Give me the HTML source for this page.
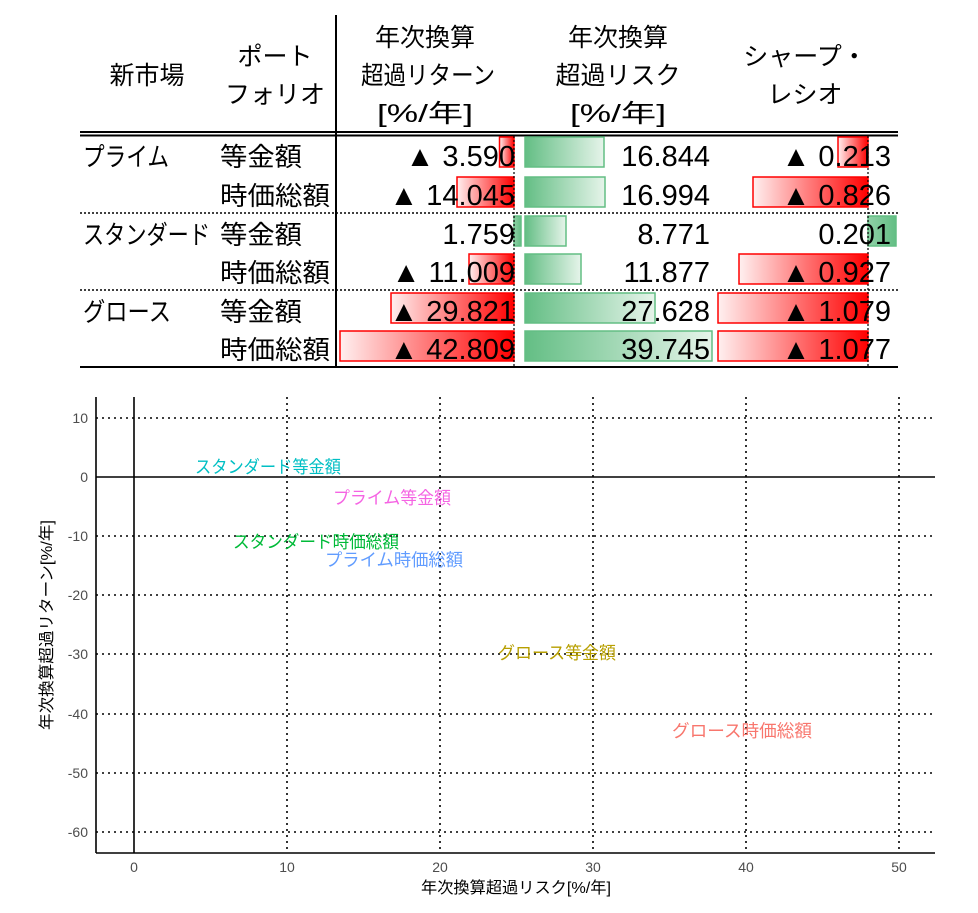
<!DOCTYPE html>
<html><head><meta charset="utf-8"><style>
body{margin:0;background:#fff;}
svg{display:block;}
.t{font-family:"Liberation Sans","Noto Sans CJK JP",sans-serif;}
</style></head><body>
<svg width="978" height="913" xmlns="http://www.w3.org/2000/svg" class="t">
<defs>
<linearGradient id="rg" x1="0" x2="1" y1="0" y2="0"><stop offset="0" stop-color="#fff0f0"/><stop offset="1" stop-color="#ff0000"/></linearGradient>
<linearGradient id="gg" x1="0" x2="1" y1="0" y2="0"><stop offset="0" stop-color="#63be84"/><stop offset="1" stop-color="#e6f4ea"/></linearGradient>
<linearGradient id="gg2" x1="0" x2="1" y1="0" y2="0"><stop offset="0" stop-color="#8fd0a6"/><stop offset="1" stop-color="#63be84"/></linearGradient>
</defs>
<g font-size="25" fill="#000" text-anchor="middle">
<text x="147" y="84">新市場</text>
<text x="275" y="65">ポート</text><text x="275" y="103">フォリオ</text>
<text x="425" y="46">年次換算</text><text x="428" y="84" textLength="134" lengthAdjust="spacingAndGlyphs">超過リターン</text><text x="425" y="122" textLength="96" lengthAdjust="spacingAndGlyphs">[%/年]</text>
<text x="618" y="46">年次換算</text><text x="618" y="84">超過リスク</text><text x="618" y="122" textLength="96" lengthAdjust="spacingAndGlyphs">[%/年]</text>
<text x="805" y="65">シャープ・</text><text x="805" y="103">レシオ</text>
</g>
<line x1="336" y1="15" x2="336" y2="367" stroke="#000" stroke-width="2"/>
<line x1="80" y1="132" x2="898" y2="132" stroke="#000" stroke-width="2"/>
<line x1="80" y1="135.5" x2="898" y2="135.5" stroke="#000" stroke-width="2"/>
<line x1="80" y1="213" x2="898" y2="213" stroke="#000" stroke-width="1.5" stroke-dasharray="2,2"/>
<line x1="80" y1="290" x2="898" y2="290" stroke="#000" stroke-width="1.5" stroke-dasharray="2,2"/>
<line x1="80" y1="367" x2="898" y2="367" stroke="#000" stroke-width="2"/>
<g stroke="#ff0000" stroke-width="1.5" fill="url(#rg)">
<rect x="499.5" y="137" width="14.5" height="30"/>
<rect x="457" y="177" width="57" height="30"/>
<rect x="469" y="254" width="45" height="30"/>
<rect x="391" y="293" width="123" height="30"/>
<rect x="340" y="331" width="174" height="30"/>
<rect x="838" y="137" width="30" height="30"/>
<rect x="753" y="177" width="115" height="30"/>
<rect x="739" y="254" width="129" height="30"/>
<rect x="718" y="293" width="150" height="30"/>
<rect x="718" y="331" width="150" height="30"/>
</g>
<g stroke="#63be84" stroke-width="1.5" fill="url(#gg)">
<rect x="525" y="137" width="79" height="30"/>
<rect x="525" y="177" width="80" height="30"/>
<rect x="525" y="216" width="41" height="30"/>
<rect x="525" y="254" width="56" height="30"/>
<rect x="525" y="293" width="130" height="30"/>
<rect x="525" y="331" width="187" height="30"/>
</g>
<g stroke="#63be84" stroke-width="1.5" fill="url(#gg2)">
<rect x="514" y="216" width="7" height="30"/>
<rect x="868" y="216" width="28" height="30"/>
</g>
<line x1="514" y1="136" x2="514" y2="367" stroke="#000" stroke-width="1.2" stroke-dasharray="2,2"/>
<line x1="868" y1="136" x2="868" y2="367" stroke="#000" stroke-width="1.2" stroke-dasharray="2,2"/>
<g font-size="26" fill="#000">
<text x="83" y="166" textLength="86" lengthAdjust="spacingAndGlyphs">プライム</text>
<text x="83" y="244" textLength="127" lengthAdjust="spacingAndGlyphs">スタンダード</text>
<text x="83" y="321" textLength="88" lengthAdjust="spacingAndGlyphs">グロース</text>
<text x="220" y="166" textLength="82" lengthAdjust="spacingAndGlyphs">等金額</text><text x="220" y="205" textLength="110" lengthAdjust="spacingAndGlyphs">時価総額</text>
<text x="220" y="244" textLength="82" lengthAdjust="spacingAndGlyphs">等金額</text><text x="220" y="282" textLength="110" lengthAdjust="spacingAndGlyphs">時価総額</text>
<text x="220" y="321" textLength="82" lengthAdjust="spacingAndGlyphs">等金額</text><text x="220" y="359" textLength="110" lengthAdjust="spacingAndGlyphs">時価総額</text>
</g>
<g font-size="29" fill="#000" text-anchor="end">
<text x="515" y="166">▲ 3.590</text><text x="515" y="205">▲ 14.045</text>
<text x="515" y="244">1.759</text><text x="515" y="282">▲ 11.009</text>
<text x="515" y="321">▲ 29.821</text><text x="515" y="359">▲ 42.809</text>
<text x="710" y="166">16.844</text><text x="710" y="205">16.994</text>
<text x="710" y="244">8.771</text><text x="710" y="282">11.877</text>
<text x="710" y="321">27.628</text><text x="710" y="359">39.745</text>
<text x="891" y="166">▲ 0.213</text><text x="891" y="205">▲ 0.826</text>
<text x="891" y="244">0.201</text><text x="891" y="282">▲ 0.927</text>
<text x="891" y="321">▲ 1.079</text><text x="891" y="359">▲ 1.077</text>
</g>
<g stroke="#000" stroke-width="1.6" stroke-dasharray="2,4">
<line x1="96" y1="418" x2="935" y2="418"/>
<line x1="96" y1="536" x2="935" y2="536"/>
<line x1="96" y1="595" x2="935" y2="595"/>
<line x1="96" y1="654" x2="935" y2="654"/>
<line x1="96" y1="714" x2="935" y2="714"/>
<line x1="96" y1="773" x2="935" y2="773"/>
<line x1="96" y1="832" x2="935" y2="832"/>
<line x1="287" y1="397" x2="287" y2="853"/>
<line x1="440" y1="397" x2="440" y2="853"/>
<line x1="593" y1="397" x2="593" y2="853"/>
<line x1="746" y1="397" x2="746" y2="853"/>
<line x1="899" y1="397" x2="899" y2="853"/>
</g>
<line x1="96" y1="477" x2="935" y2="477" stroke="#000" stroke-width="1.6"/>
<line x1="134" y1="397" x2="134" y2="853" stroke="#000" stroke-width="1.6"/>
<line x1="96" y1="397" x2="96" y2="853" stroke="#000" stroke-width="1.6"/>
<line x1="96" y1="853" x2="935" y2="853" stroke="#000" stroke-width="1.6"/>
<g font-size="14" fill="#4d4d4d" text-anchor="end">
<text x="88" y="423">10</text><text x="88" y="482">0</text><text x="88" y="541">-10</text>
<text x="88" y="600">-20</text><text x="88" y="659">-30</text><text x="88" y="719">-40</text>
<text x="88" y="778">-50</text><text x="88" y="837">-60</text>
</g>
<g font-size="14" fill="#4d4d4d" text-anchor="middle">
<text x="134" y="872">0</text><text x="287" y="872">10</text><text x="440" y="872">20</text>
<text x="593" y="872">30</text><text x="746" y="872">40</text><text x="899" y="872">50</text>
</g>
<text x="516" y="893" font-size="16" text-anchor="middle" fill="#000" textLength="190" lengthAdjust="spacingAndGlyphs">年次換算超過リスク[%/年]</text>
<text transform="translate(52,625) rotate(-90)" font-size="16" text-anchor="middle" fill="#000" textLength="210" lengthAdjust="spacingAndGlyphs">年次換算超過リターン[%/年]</text>
<g font-size="17.5" text-anchor="middle">
<text x="268" y="473" fill="#00BFC4" textLength="146" lengthAdjust="spacingAndGlyphs">スタンダード等金額</text>
<text x="392" y="504" fill="#F564E3" textLength="118" lengthAdjust="spacingAndGlyphs">プライム等金額</text>
<text x="316" y="548" fill="#00BA38" textLength="166" lengthAdjust="spacingAndGlyphs">スタンダード時価総額</text>
<text x="394" y="566" fill="#619CFF" textLength="138" lengthAdjust="spacingAndGlyphs">プライム時価総額</text>
<text x="557" y="659" fill="#B79F00" textLength="118" lengthAdjust="spacingAndGlyphs">グロース等金額</text>
<text x="742" y="737" fill="#F8766D" textLength="140" lengthAdjust="spacingAndGlyphs">グロース時価総額</text>
</g>
</svg>
</body></html>
